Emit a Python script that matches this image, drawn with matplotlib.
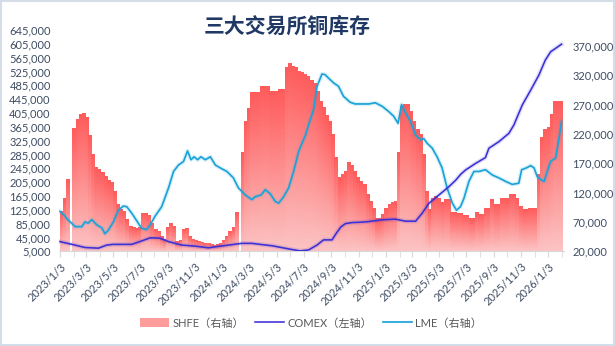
import datetime as dt
import numpy as np
import matplotlib
matplotlib.use("Agg")
import matplotlib.pyplot as plt
import matplotlib.dates as mdates
import matplotlib.patheffects as pe
from matplotlib.colors import LinearSegmentedColormap
from matplotlib.lines import Line2D
from matplotlib.patches import Patch, Rectangle

# ---------------- data ----------------
title = "三大交易所铜库存"
start_date = dt.date(2023, 1, 3)
nan = float("nan")

# SHFE weekly stocks (thousand t), right axis
shfe_k = [
    88, 110, 142, nan, 229, 244, 252, 254, 247, 216,
    184, 162, 158, 153, 147, 140, 136, 122, 99, 90,
    88, 73, 62, 60, 58, 60, 84, 84, 80, 66,
    56, 53, 45, 40, 60, 67, 62, 36, 38, 57,
    59, 45, 39, 38, 36, 34, 33, 32, 31, 30,
    31, 33, 38, 45, 53, 60, 86, nan, 187, 241,
    262, 290, 290, 290, 301, 301, 301, 292, 292, 292,
    295, 295, 332, 339, 335, 332, 326, 324, 320, 318,
    310, 305, 292, 275, 264, 250, 241, 218, 179, 145,
    150, 156, 170, 165, 156, 145, 139, 133, 116, 105,
    93, 76, 76, 82, 93, 100, 102, 104, 187, 267,
    270, 270, 258, 240, 227, 218, 184, 122, 90, 110,
    112, 110, 102, 108, 107, 85, 85, 84, 84, 80,
    80, 76, 76, 85, 83, 83, 93, 93, 108, 99,
    99, 110, 110, 110, 116, 116, 110, 96, 90, 90,
    93, 93, 93, 150, 213, 227, 230, 253, 275, 275,
    275,
]

# LME stocks (thousand t), right axis; time in weeks since start_date
lme_week = [0, 1.6, 2.1, 4.3, 4.8, 7, 8, 9, 10.2, 11.8, 13.4, 14.4, 15.5, 17.1, 18.7,
            20.3, 21.4, 23, 24.6, 26.2, 27.8, 28.9, 30.5, 32.6, 34.8, 36.4, 38, 39.6,
            40.9, 42, 43, 44.1, 45.2, 46.6, 48.2, 49.8, 51.4, 53.5, 55.6, 57.2, 59.4,
            61.5, 62.6, 64.5, 65.8, 67.4, 69, 70.1, 71.7, 73.3, 74.9, 76.5, 78.7, 80.2,
            81.3, 82.4, 84, 85, 86.1, 87.7, 89.3, 90.9, 93, 94.6, 96.3, 99, 101.1, 103.3,
            105.4, 107, 108.4, 109.5, 110.6, 112.4, 114, 115.6, 116.6, 117.7, 119.3,
            120.9, 122.5, 124.1, 125.8, 127.1, 128.4, 129.5, 131.1, 132.7, 134.3, 136.4,
            138.6, 140.7, 142.9, 145, 147.1, 148, 149.5, 150.9, 152, 153, 154.2, 155.2,
            156.2, 157.3, 158.9, 160, 160.8]
lme_k = [88, 80, 76, 65, 62, 62, 70, 68, 74, 65, 60, 50, 56, 70, 90,
         97, 96, 85, 72, 59, 57, 65, 80, 96, 128, 156, 167, 173,
         191, 176, 181, 176, 181, 176, 181, 167, 162, 156, 145, 128, 116,
         108, 113, 116, 125, 118, 105, 102, 113, 128, 156, 190, 218, 244,
         261, 301, 322, 321, 315, 307, 301, 284, 274, 271, 271, 271, 273, 267,
         258, 250, 238, 270, 258, 241, 218, 210, 212, 204, 196,
         181, 162, 128, 102, 90, 96, 110, 139, 156, 156, 159,
         150, 145, 139, 134, 136, 159, 162, 166, 162, 147, 142, 139,
         156, 173, 179, 213, 241]

# COMEX stocks (thousand), left axis
comex_week = [0, 2.4, 4.8, 8, 12.3, 15, 17, 23, 26.2, 28.9, 32, 34.8, 39, 43.3,
              47.6, 49.8, 54.1, 58.3, 61.5, 64.2, 68, 73.3, 77, 79.7, 82.4, 84.5,
              87.2, 88.8, 90, 91.5, 93.6, 96.3, 99, 103.3, 107.5, 110.8, 114, 116.1,
              118.3, 121.5, 124.7, 126.8, 128.5, 130, 133.2, 136.4, 137.5, 140.7,
              143.9, 145.5, 148.2, 150.9, 153.5, 155.6, 157.3, 158.9, 160.8]
comex_k = [33, 28, 23, 16, 14, 23, 25, 25, 35, 44, 43, 33, 23, 20,
           15, 18, 23, 28, 28, 25, 21, 12, 6, 9, 23, 38,
           38, 60, 75, 85, 88, 89, 91, 96, 98, 92, 92, 115,
           144, 168, 192, 210, 228, 240, 259, 276, 303, 322,
           346, 370, 428, 471, 514, 558, 582, 592, 604]

left_ticks = list(range(5000, 645001, 40000))
right_ticks = list(range(20000, 370001, 50000))
x_tick_labels = ["2023/1/3", "2023/3/3", "2023/5/3", "2023/7/3", "2023/9/3", "2023/11/3",
                 "2024/1/3", "2024/3/3", "2024/5/3", "2024/7/3", "2024/9/3", "2024/11/3",
                 "2025/1/3", "2025/3/3", "2025/5/3", "2025/7/3", "2025/9/3", "2025/11/3",
                 "2026/1/3"]
legend_labels = ["SHFE（右轴）", "COMEX（左轴）", "LME（右轴）"]

# ---------------- style ----------------
FONT = ["Lato", "Noto Sans CJK SC", "DejaVu Sans"]
plt.rcParams["font.family"] = FONT
TXT = "#3f4d63"
C_COMEX = "#3b2fd6"
C_LME = "#1ba3d9"
BAR_TOP = "#ff5c5c"
BAR_BOT = "#fcc3c3"

fig = plt.figure(figsize=(6.15, 3.46), dpi=100)
fig.patch.set_facecolor("white")
fig.add_artist(Rectangle((0.001, 0.002), 0.997, 0.995, transform=fig.transFigure,
                         fill=False, edgecolor="#d5dde8", lw=1.5))

ax = fig.add_axes([0.0961, 0.2737, 0.917 - 0.0961, 0.9133 - 0.2737])
ax2 = ax.twinx()
ax.set_zorder(3)
ax2.set_zorder(2)
ax.patch.set_visible(False)
ax2.patch.set_visible(False)

def wdate(w):
    return mdates.date2num(dt.datetime.combine(start_date, dt.time()) + dt.timedelta(days=7 * w))

bar_x = [wdate(i) for i in range(len(shfe_k))]
shfe = np.array(shfe_k, dtype=float) * 1000
r_lo, r_hi = 20000, 397000
bars = ax2.bar(bar_x, shfe, width=6.85, align="edge", color=BAR_BOT, edgecolor="none", zorder=2)
cmap = LinearSegmentedColormap.from_list("shfe", [BAR_BOT, BAR_TOP])
grad = np.linspace(0, 1, 64).reshape(-1, 1)
for rect in bars:
    h = rect.get_height()
    if not np.isfinite(h):
        continue
    x0, w = rect.get_x(), rect.get_width()
    ax2.imshow(grad, extent=(x0, x0 + w, r_lo, h), origin="lower", aspect="auto",
               cmap=cmap, interpolation="bilinear", zorder=2.1)

glow = lambda c: [pe.Stroke(linewidth=3.2, foreground=c, alpha=0.15), pe.Normal()]
ax2.plot([wdate(w) for w in lme_week], np.array(lme_k) * 1000, color=C_LME, lw=1.25,
         zorder=3, path_effects=glow(C_LME))
ax.plot([wdate(w) for w in comex_week], np.array(comex_k) * 1000, color=C_COMEX, lw=1.15,
        zorder=3, path_effects=glow(C_COMEX))

# axes limits
x_left = mdates.date2num(dt.datetime(2023, 1, 1))
x_right = mdates.date2num(dt.datetime(2026, 2, 7))
ax.set_xlim(x_left, x_right)
ax2.set_xlim(x_left, x_right)
ax.set_ylim(5000, 645000)
ax2.set_ylim(r_lo, r_hi)

ax.set_yticks(left_ticks)
ax.set_yticklabels([f"{v:,}" for v in left_ticks])
ax2.set_yticks(right_ticks)
ax2.set_yticklabels([f"{v:,}" for v in right_ticks])

xt = [mdates.date2num(dt.datetime.strptime(s, "%Y/%m/%d")) for s in x_tick_labels]
ax.set_xticks(xt)
ax.set_xticklabels(x_tick_labels, rotation=45, ha="right", va="top", rotation_mode="anchor")
minor = []
d = dt.datetime(2023, 1, 3)
while d <= dt.datetime(2026, 2, 3):
    minor.append(mdates.date2num(d))
    d = dt.datetime(d.year + (d.month // 12), d.month % 12 + 1, 3)
ax.set_xticks(minor, minor=True)

for a in (ax, ax2):
    for s in a.spines.values():
        s.set_visible(False)
ax.spines["bottom"].set_visible(True)
ax.spines["bottom"].set_color("#d9d9d9")
ax.tick_params(axis="y", length=0, labelsize=8, labelcolor=TXT, pad=6)
ax2.tick_params(axis="y", length=0, labelsize=8, labelcolor=TXT, pad=6)
ax.tick_params(axis="x", which="both", length=4, color="#d9d9d9", labelsize=8,
               labelcolor=TXT, pad=3)
ax2.tick_params(axis="x", which="both", length=0, labelbottom=False)

fig.text(0.467, 0.925, title, ha="center", va="center", fontsize=15,
         fontweight="bold", color="#1f3864", family=["Noto Sans CJK SC"])

handles = [Patch(facecolor="#ff9c9c", edgecolor="none"),
           Line2D([], [], color=C_COMEX, lw=1.15),
           Line2D([], [], color=C_LME, lw=1.25)]
fig.legend(handles, legend_labels, loc="center", bbox_to_anchor=(0.506, 0.066), ncol=3,
           frameon=False, fontsize=8, handlelength=2.6, handleheight=0.9,
           columnspacing=1.0, handletextpad=0.3, labelcolor="#595959")

fig.savefig("out.png", dpi=100, facecolor="white")
